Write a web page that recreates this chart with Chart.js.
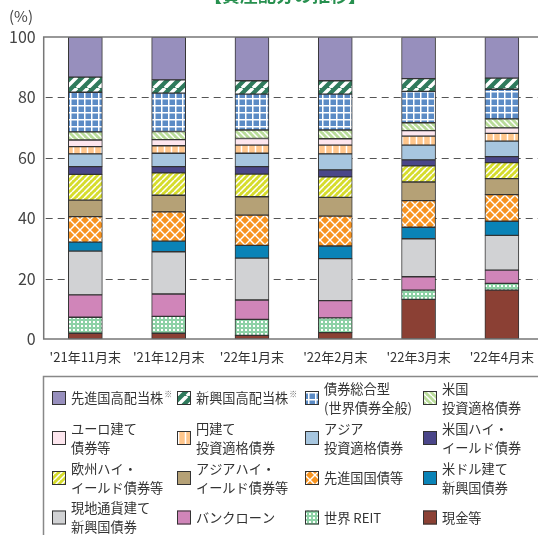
<!DOCTYPE html>
<html lang="ja">
<head>
<meta charset="utf-8">
<title>資産配分の推移</title>
<script src="https://cdn.jsdelivr.net/npm/chart.js@4.4.1/dist/chart.umd.min.js"></script>
<style>
  html, body { margin: 0; padding: 0; background: #fff; overflow: hidden; }
  #wrap { position: relative; width: 544px; height: 535px; }
</style>
</head>
<body>
<div id="wrap"><canvas id="chart" width="544" height="535"></canvas></div>
<script>
// data, top of stack first (same order as the legend)
const months = ["'21年11月末", "'21年12月末", "'22年1月末", "'22年2月末", "'22年3月末", "'22年4月末"];
const yTicks = [0, 20, 40, 60, 80, 100];

const devDiv   = [13.3, 14.2, 14.5, 14.5, 13.8, 13.6];
const emDiv    = [5.0, 4.4, 4.4, 4.4, 4.2, 3.7];
const aggBond  = [13.1, 12.7, 11.9, 11.9, 10.4, 9.8];
const usIG     = [2.7, 2.7, 2.8, 2.9, 2.6, 3.0];
const euroBond = [2.2, 2.0, 2.2, 2.1, 1.8, 1.8];
const yenIG    = [2.4, 2.5, 2.7, 2.9, 3.0, 2.6];
const asiaIG   = [4.2, 4.4, 4.4, 5.3, 4.9, 5.1];
const usHY     = [2.6, 2.1, 2.5, 2.3, 2.0, 2.0];
const euHY     = [8.5, 7.4, 7.5, 6.8, 5.3, 5.3];
const asiaHY   = [5.5, 5.5, 6.1, 6.2, 6.2, 5.3];
const devGov   = [8.4, 9.7, 10.0, 9.9, 8.8, 8.8];
const usdEM    = [3.0, 3.5, 4.2, 4.2, 3.8, 4.7];
const localEM  = [14.5, 14.0, 13.9, 13.9, 12.6, 11.5];
const bankLoan = [7.4, 7.4, 6.4, 5.7, 4.4, 4.4];
const reit     = [5.3, 5.6, 5.3, 4.9, 3.1, 2.2];
const cash     = [1.9, 1.9, 1.2, 2.1, 13.1, 16.2];

const FONT = "'Noto Sans CJK JP', 'Noto Sans', sans-serif";

// makePattern
function makePattern(bg, draw, size) {
  const c = document.createElement('canvas');
  c.width = size; c.height = size;
  const g = c.getContext('2d');
  g.fillStyle = bg;
  g.fillRect(0, 0, size, size);
  g.strokeStyle = '#fff';
  g.fillStyle = '#fff';
  if (draw) draw(g, size);
  return c.getContext('2d').createPattern(c, 'repeat');
}

const slashFwd = w => (g, s) => {
  g.lineWidth = w;
  g.beginPath();
  for (let k = -1; k <= 1; k++) { g.moveTo(k * s, s); g.lineTo(k * s + s, 0); }
  g.stroke();
};
const slashBack = w => (g, s) => {
  g.lineWidth = w;
  g.beginPath();
  for (let k = -1; k <= 1; k++) { g.moveTo(k * s, 0); g.lineTo(k * s + s, s); }
  g.stroke();
};
const gridLines = (g, s) => { g.fillRect(0, 0, s, 1.5); g.fillRect(0, 0, 1.5, s); };
const vertLines = (g, s) => { g.fillRect(s / 2 - 0.75, 0, 1.5, s); };
const lattice = (g, s) => { slashFwd(1.4)(g, s); slashBack(1.4)(g, s); };
const dots = (g, s) => { g.fillRect(1, 1, 2, 2); };

const series = [
  { label: '先進国高配当株', note: true, data: devDiv,   fill: makePattern('#978fbd', null, 4) },
  { label: '新興国高配当株', note: true, data: emDiv,    fill: makePattern('#2f7a5c', slashFwd(3.5), 11) },
  { label: ['債券総合型', '(世界債券全般)'], data: aggBond, fill: makePattern('#5b8bc5', gridLines, 7) },
  { label: ['米国', '投資適格債券'], data: usIG,          fill: makePattern('#b9dc9a', slashBack(1.5), 6) },
  { label: ['ユーロ建て', '債券等'], data: euroBond,      fill: makePattern('#fde6ee', null, 4) },
  { label: ['円建て', '投資適格債券'], data: yenIG,        fill: makePattern('#ffc68c', vertLines, 7) },
  { label: ['アジア', '投資適格債券'], data: asiaIG,       fill: makePattern('#a7c6df', null, 4) },
  { label: ['米国ハイ・', 'イールド債券'], data: usHY,     fill: makePattern('#4a4689', null, 4) },
  { label: ['欧州ハイ・', 'イールド債券等'], data: euHY,   fill: makePattern('#d6dc2c', slashFwd(1.5), 6) },
  { label: ['アジアハイ・', 'イールド債券等'], data: asiaHY, fill: makePattern('#b5a176', null, 4) },
  { label: '先進国国債等', data: devGov,                   fill: makePattern('#f7931f', lattice, 10) },
  { label: ['米ドル建て', '新興国債券'], data: usdEM,      fill: makePattern('#0a83b7', null, 4) },
  { label: ['現地通貨建て', '新興国債券'], data: localEM,  fill: makePattern('#d1d2d4', null, 4) },
  { label: 'バンクローン', data: bankLoan,                 fill: makePattern('#d085b9', null, 4) },
  { label: '世界 REIT', data: reit,                        fill: makePattern('#8dd1a6', dots, 4) },
  { label: '現金等', data: cash,                           fill: makePattern('#8b4034', null, 4) }
];

// first dataset sits at the bottom of the stack
const datasets = series.slice().reverse().map(s => ({
  label: Array.isArray(s.label) ? s.label.join('') : s.label,
  data: s.data,
  backgroundColor: s.fill,
  borderColor: '#333',
  borderWidth: 1,
  borderSkipped: false,
  barThickness: 34
}));

// frame: dashed grid, axes, title, legend box
const framePlugin = {
  id: 'frame',
  beforeDatasetsDraw(chart) {
    const { ctx, chartArea: a, scales: { y } } = chart;
    ctx.save();
    ctx.strokeStyle = '#555';
    ctx.lineWidth = 1;
    ctx.setLineDash([7, 5]);
    yTicks.filter(v => v > 0 && v < 100).forEach(v => {
      const py = Math.round(y.getPixelForValue(v)) + 0.5;
      ctx.beginPath(); ctx.moveTo(a.left + 2, py); ctx.lineTo(a.right, py); ctx.stroke();
    });
    ctx.restore();
  },
  afterDatasetsDraw(chart) {
    const { ctx, chartArea: a, scales: { y } } = chart;
    ctx.save();
    ctx.strokeStyle = '#777';
    ctx.lineWidth = 1.5;
    const top = y.getPixelForValue(100), bot = y.getPixelForValue(0);
    ctx.beginPath();
    ctx.moveTo(a.right, top); ctx.lineTo(a.left, top);
    ctx.lineTo(a.left, bot); ctx.lineTo(a.right, bot);
    ctx.stroke();
    ctx.restore();
  },
  afterDraw(chart) {
    const ctx = chart.ctx;
    ctx.save();
    // title, clipped by the top edge as in the picture
    ctx.fillStyle = '#27904f';
    ctx.font = 'bold 18px ' + FONT;
    ctx.textAlign = 'center';
    ctx.textBaseline = 'middle';
    ctx.fillText('【資産配分の推移】', 285, -5);

    ctx.fillStyle = '#444';
    ctx.font = '15px ' + FONT;
    ctx.textAlign = 'left';
    ctx.fillText('(%)', 9, 16);

    // legend box
    ctx.strokeStyle = '#888';
    ctx.lineWidth = 1.5;
    ctx.strokeRect(43.5, 376.5, 600, 200);

    const colX = [52, 177, 305, 423];
    const rowY = [398, 438, 478, 517.5];
    series.forEach((s, i) => {
      const x = colX[i % 4], cy = rowY[Math.floor(i / 4)];
      ctx.fillStyle = s.fill;
      ctx.fillRect(x, cy - 7, 14, 14);
      ctx.strokeStyle = '#333';
      ctx.lineWidth = 1;
      ctx.strokeRect(x + 0.5, cy - 6.5, 13, 13);

      ctx.fillStyle = '#333';
      ctx.font = '13.2px ' + FONT;
      ctx.textAlign = 'left';
      ctx.textBaseline = 'middle';
      const tx = x + 19;
      if (Array.isArray(s.label)) {
        ctx.fillText(s.label[0], tx, cy - 9.5);
        ctx.fillText(s.label[1], tx, cy + 9.5);
      } else {
        ctx.fillText(s.label, tx, cy);
        if (s.note) {
          const w = ctx.measureText(s.label).width;
          ctx.font = '8px ' + FONT;
          ctx.fillStyle = '#666';
          ctx.fillText('※', tx + w + 1, cy - 4);
        }
      }
    });
    ctx.restore();
  }
};

new Chart(document.getElementById('chart'), {
  type: 'bar',
  data: { labels: months, datasets },
  options: {
    responsive: false,
    animation: false,
    layout: { padding: { left: 0, right: 0, top: 37, bottom: 166 } },
    plugins: { legend: { display: false }, tooltip: { enabled: false } },
    scales: {
      x: {
        stacked: true,
        grid: { display: false, drawTicks: false },
        border: { display: false },
        ticks: { color: '#333', font: { family: FONT, size: 13 }, padding: 10, maxRotation: 0, autoSkip: false },
        afterFit: s => { s.height = 30; }
      },
      y: {
        stacked: true,
        min: 0,
        max: 100,
        afterBuildTicks: s => { s.ticks = yTicks.map(v => ({ value: v })); },
        grid: { display: false, drawTicks: false },
        border: { display: false },
        ticks: { color: '#444', font: { family: FONT, size: 16 }, padding: 8 },
        afterFit: s => { s.width = 43.7; }
      }
    }
  },
  plugins: [framePlugin]
});
</script>
</body>
</html>
